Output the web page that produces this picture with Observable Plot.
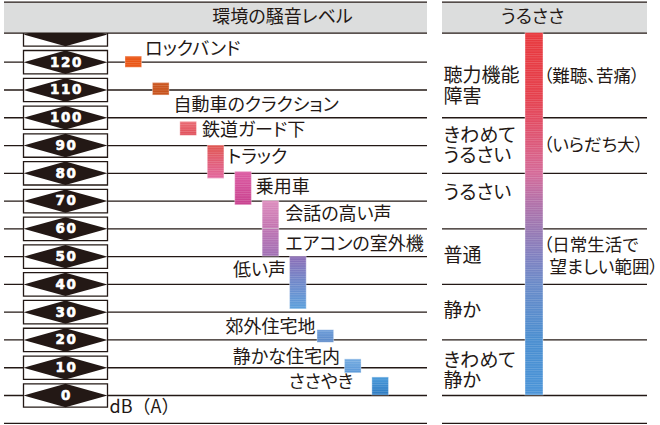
<!DOCTYPE html>
<html><head><meta charset="utf-8">
<script src="https://cdn.jsdelivr.net/npm/d3@7"></script>
<script src="https://cdn.jsdelivr.net/npm/@observablehq/plot@0.6"></script>
<style>
html,body{margin:0;padding:0;background:#fff;}
</style></head><body><div id="chart"></div>
<script>
// ---------- DATA ----------
const sources = ["ロックバンド","自動車のクラクション","鉄道ガード下","トラック","乗用車","会話の高い声","エアコンの室外機","低い声","郊外住宅地","静かな住宅内","ささやき"];
const sourceStep = [1,2,3,4,5,6,6,7,8,9,10];
const sourceLow  = [118,108,93.5,78,68.5,60,50,31,19,8,0];
const sourceHigh = [122,112.5,98.5,90,80.5,70,60,50,23.5,13,6.5];
const dbTicks = [0,10,20,30,40,50,60,70,80,90,100,110,120,130];
const levelNames = ["聴力機能\n障害","きわめて\nうるさい","うるさい","普通","静か","きわめて\n静か"];
const levelLow  = [100,80,60,40,20,0];
const levelHigh = [130,100,80,60,40,20];
const levelNotes = ["（難聴、苦痛）","（いらだち大）","","（日常生活で\n望ましい範囲）","",""];
const titleLeft = "環境の騒音レベル";
const titleRight = "うるささ";
const unitLabel = "dB（A）";

// ---------- LAYOUT / STYLE ----------
const ink = "#231815";
const headGray = "#dcdddd";
const labelSide = ["r","r","r","r","r","r","r","l","l","l","l"];
const labelGap  = [3,4,5,3,4,6,6,4,2,5,19];
const labelDb   = [124.6,104.4,95.4,85.8,75,65.4,54.6,45,24.6,13.8,4.8];
const levelLabelDb = [111.5,90,73,50.5,30.5,9];
const barStops = [
  [["0","#ea5514"],["1","#ea5514"]],
  [["0","#cb561f"],["1","#c7521c"]],
  [["0","#ea6b74"],["1","#df4d58"]],
  [["0","#e0554f"],["1","#e2669e"]],
  [["0","#dc5ca2"],["1","#c8408e"]],
  [["0","#dd8dbd"],["1","#c272b0"]],
  [["0","#bf74b3"],["1","#a06fb4"]],
  [["0","#8c6cb6"],["0.45","#7286c8"],["1","#5ba0dc"]],
  [["0","#6c9cd8"],["1","#5a88c8"]],
  [["0","#74abe0"],["1","#5a98d8"]],
  [["0","#4a9ada"],["1","#2a78c0"]]
];
const uruStops = [[130,"#e8383d"],[108,"#e5404c"],[100,"#e24a60"],[80,"#d56a98"],[70,"#b470a8"],[60,"#9a78b2"],[50,"#8080c0"],[40,"#6a8ac8"],[20,"#4a8ed0"],[0,"#4a94d8"]];

const bars = sources.map((name,i)=>({name, step: sourceStep[i], low: sourceLow[i], high: sourceHigh[i]}));
const levels = levelNames.map((name,i)=>({name, low: levelLow[i], high: levelHigh[i], note: levelNotes[i], ly: levelLabelDb[i]}));

const boxSym = {draw(c){ c.rect(-42,-11.7,84,23.4); }};
const diamondSym = {draw(c){ c.moveTo(-42,0); c.lineTo(0,-11.7); c.lineTo(42,0); c.lineTo(0,11.7); c.closePath(); }};

const halfBand = 8.3;
const labelMarks = bars.map((d,i)=> Plot.text([d], {
  x: "step", y: () => labelDb[i], text: "name",
  textAnchor: labelSide[i]==="r" ? "start" : "end",
  dx: labelSide[i]==="r" ? halfBand + labelGap[i] : -(halfBand + labelGap[i]),
  fontSize: 18, fill: ink
}));

const noteLineH = 21.5;
const noteMarks = [];
levels.forEach(d => {
  if (!d.note) return;
  const lines = d.note.split("\n");
  lines.forEach((line, j) => {
    noteMarks.push(Plot.text([line], {
      y: () => (Math.min(d.high,130)+d.low)/2, text: t => t,
      frameAnchor: "left", dx: 543 + (j > 0 ? 6 : 0), dy: (j - (lines.length-1)/2) * noteLineH,
      textAnchor: "start", fontSize: 17.5, fill: ink
    }));
  });
});

const chart = Plot.plot({
  width: 660, height: 425, margin: 0,
  style: "font-family:'Noto Sans CJK JP',sans-serif;font-feature-settings:'palt';background:#fff;",
  x: {type: "band", domain: d3.range(1,11), range: [125, 388.5], paddingInner: 0.394, paddingOuter: 0, round: false, axis: null},
  y: {domain: [0,120], range: [395, 61.7], axis: null},
  color: {type: "ordinal", domain: sources, range: sources.map((_,i)=>`url(#bar${i})`)},
  marks: [
    Plot.ruleY([-10, ...dbTicks.filter(t=>t<=120)], {stroke: ink, strokeWidth: 1.3, insetLeft: 4, insetRight: 233}),
    Plot.ruleY([-10, ...levelLow], {stroke: ink, strokeWidth: 1.3, insetLeft: 442, insetRight: 13}),
    Plot.dot(dbTicks, {y: d=>d, frameAnchor: "left", dx: 65, symbol: boxSym, fill: "white", stroke: ink, strokeWidth: 1.3}),
    Plot.dot(dbTicks, {y: d=>d, frameAnchor: "left", dx: 65, symbol: diamondSym, fill: ink, stroke: "none"}),
    Plot.text(dbTicks.filter(t=>t<=120), {y: d=>d, text: d=>String(d), frameAnchor: "left", dx: 66, textAnchor: "middle",
      fill: "white", stroke: "white", strokeWidth: 0.6, fontFamily: "DejaVu Sans", fontWeight: "bold", fontSize: 13.5}),
    Plot.ruleY([136.05], {stroke: headGray, strokeWidth: 30.6, insetLeft: 4, insetRight: 233}),
    Plot.ruleY([136.05], {stroke: headGray, strokeWidth: 30.6, insetLeft: 442, insetRight: 13}),
    Plot.ruleY([130.5, 141.6], {stroke: ink, strokeWidth: 1.3, insetLeft: 4, insetRight: 233}),
    Plot.ruleY([130.5, 141.6], {stroke: ink, strokeWidth: 1.3, insetLeft: 442, insetRight: 13}),
    Plot.text([titleLeft], {y: () => 136.05, text: d=>d, frameAnchor: "left", dx: 282, textAnchor: "middle", fontSize: 18, fill: ink}),
    Plot.text([titleRight], {y: () => 136.05, text: d=>d, frameAnchor: "left", dx: 532, textAnchor: "middle", fontSize: 18, fill: ink}),
    Plot.barY(bars, {x: "step", y1: "low", y2: "high", fill: "name", stroke: "white", strokeOpacity: 0.35, strokeWidth: 1}),
    Plot.barY(bars, {x: "step", y1: "low", y2: "high", fill: "url(#stripes)"}),
    ...labelMarks,
    Plot.text([unitLabel], {y: () => -4.2, text: d=>d, frameAnchor: "left", dx: 109, textAnchor: "start", fontSize: 18, fill: ink}),
    Plot.rect([0], {y1: () => 0, y2: () => 130.5, insetLeft: 525, insetRight: 117, fill: "url(#uru)", stroke: "white", strokeOpacity: 0.4}),
    Plot.rect([0], {y1: () => 0, y2: () => 130.5, insetLeft: 525, insetRight: 117, fill: "url(#stripes)"}),
    Plot.text(levels, {y: "ly", text: "name", frameAnchor: "left", dx: 443, textAnchor: "start", fontSize: 19, lineHeight: 1.08, fill: ink}),
    ...noteMarks
  ]
});

const svg = d3.select(chart);
const defs = svg.insert("defs", ":first-child");
barStops.forEach((stops,i)=>{
  const g = defs.append("linearGradient").attr("id", `bar${i}`).attr("x1",0).attr("y1",0).attr("x2",0).attr("y2",1);
  stops.forEach(([o,c])=> g.append("stop").attr("offset", o).attr("stop-color", c));
});
const ug = defs.append("linearGradient").attr("id","uru").attr("x1",0).attr("y1",0).attr("x2",0).attr("y2",1);
uruStops.forEach(([db,c])=> ug.append("stop").attr("offset", (130.5-db)/130.5).attr("stop-color", c));
const pat = defs.append("pattern").attr("id","stripes").attr("patternUnits","userSpaceOnUse").attr("width",4).attr("height",2.3);
pat.append("rect").attr("width",4).attr("height",0.8).attr("fill","white").attr("fill-opacity",0.16);
svg.selectAll("text").each(function(){
  const t = this.textContent;
  if (dbTicks.map(String).includes(t)) d3.select(this).style("letter-spacing","1.6px");
  if (t === unitLabel) d3.select(this).style("font-feature-settings","normal");
});
document.getElementById("chart").appendChild(chart);
</script></body></html>
